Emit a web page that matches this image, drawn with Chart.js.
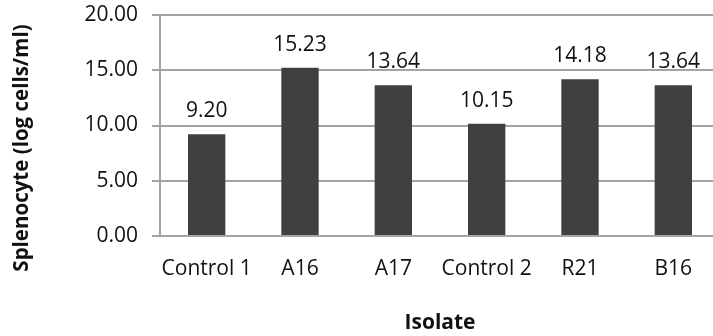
<!DOCTYPE html>
<html>
<head>
<meta charset="utf-8">
<script src="https://cdn.jsdelivr.net/npm/chart.js@4.4.1/dist/chart.umd.min.js"></script>
<style>
  html, body { margin: 0; padding: 0; background: #fff; overflow: hidden; }
  #wrap { position: absolute; left: 0; top: 0; width: 722px; height: 336px; }
</style>
</head>
<body>
<div id="wrap"><canvas id="chart"></canvas></div>
<script>
// Splenocyte counts per isolate
const categories = ['Control 1', 'A16', 'A17', 'Control 2', 'R21', 'B16'];
const splenocyte = [9.20, 15.23, 13.64, 10.15, 14.18, 13.64];
const yTicks = [0, 5, 10, 15, 20];
const xTitle = 'Isolate';
const yTitle = 'Splenocyte (log cells/ml)';

const FONT = '"Open Sans", "Noto Sans", sans-serif';
const GRID = '#a3a3a3';
const BAR = '#404040';
const TEXT = '#111111';

// Value labels above each bar
const valueLabels = {
  id: 'valueLabels',
  afterDatasetsDraw(chart) {
    const ctx = chart.ctx;
    const meta = chart.getDatasetMeta(0);
    ctx.save();
    ctx.font = '21px ' + FONT;
    ctx.fillStyle = TEXT;
    ctx.textAlign = 'center';
    ctx.textBaseline = 'alphabetic';
    meta.data.forEach((bar, i) => {
      ctx.fillText(splenocyte[i].toFixed(2), bar.x, bar.y - 17);
    });
    ctx.restore();
  }
};

// Rotated y-axis title
const yAxisTitle = {
  id: 'yAxisTitle',
  afterDraw(chart) {
    const ctx = chart.ctx;
    ctx.save();
    ctx.translate(22, 148);
    ctx.rotate(-Math.PI / 2);
    ctx.font = 'bold 20.5px ' + FONT;
    ctx.fillStyle = TEXT;
    ctx.textAlign = 'center';
    ctx.textBaseline = 'middle';
    ctx.fillText(yTitle, 0, 0);
    ctx.restore();
  }
};

new Chart(document.getElementById('chart'), {
  type: 'bar',
  data: {
    labels: categories,
    datasets: [{
      data: splenocyte,
      backgroundColor: BAR,
      borderWidth: 0,
      categoryPercentage: 0.4,
      barPercentage: 1.0
    }]
  },
  options: {
    responsive: true,
    maintainAspectRatio: false,
    animation: false,
    events: [],
    layout: { padding: { top: 15, right: 2, left: 0, bottom: 0 } },
    plugins: {
      legend: { display: false },
      tooltip: { enabled: false },
      title: { display: false }
    },
    scales: {
      x: {
        grid: { display: false, drawTicks: false },
        border: { display: true, color: GRID, width: 2 },
        ticks: {
          color: TEXT,
          font: { family: FONT, size: 21 },
          padding: 20,
          maxRotation: 0,
          autoSkip: false
        },
        title: {
          display: true,
          text: xTitle,
          color: TEXT,
          font: { family: FONT, size: 21, weight: 'bold' },
          padding: { top: 0, bottom: 0 }
        },
        afterFit(scale) { scale.height = 100; scale.paddingLeft = 0; scale.paddingRight = 0; }
      },
      y: {
        min: 0,
        max: 20,
        afterBuildTicks(scale) { scale.ticks = yTicks.map(v => ({ value: v })); },
        grid: { color: GRID, lineWidth: 2, tickLength: 8, drawTicks: true },
        border: { display: true, color: GRID, width: 2 },
        ticks: {
          color: TEXT,
          font: { family: FONT, size: 21 },
          padding: 14,
          callback: (v) => Number(v).toFixed(2)
        },
        afterFit(scale) { scale.width = 160; scale.paddingTop = 0; scale.paddingBottom = 0; }
      }
    }
  },
  plugins: [valueLabels, yAxisTitle]
});
</script>
</body>
</html>
